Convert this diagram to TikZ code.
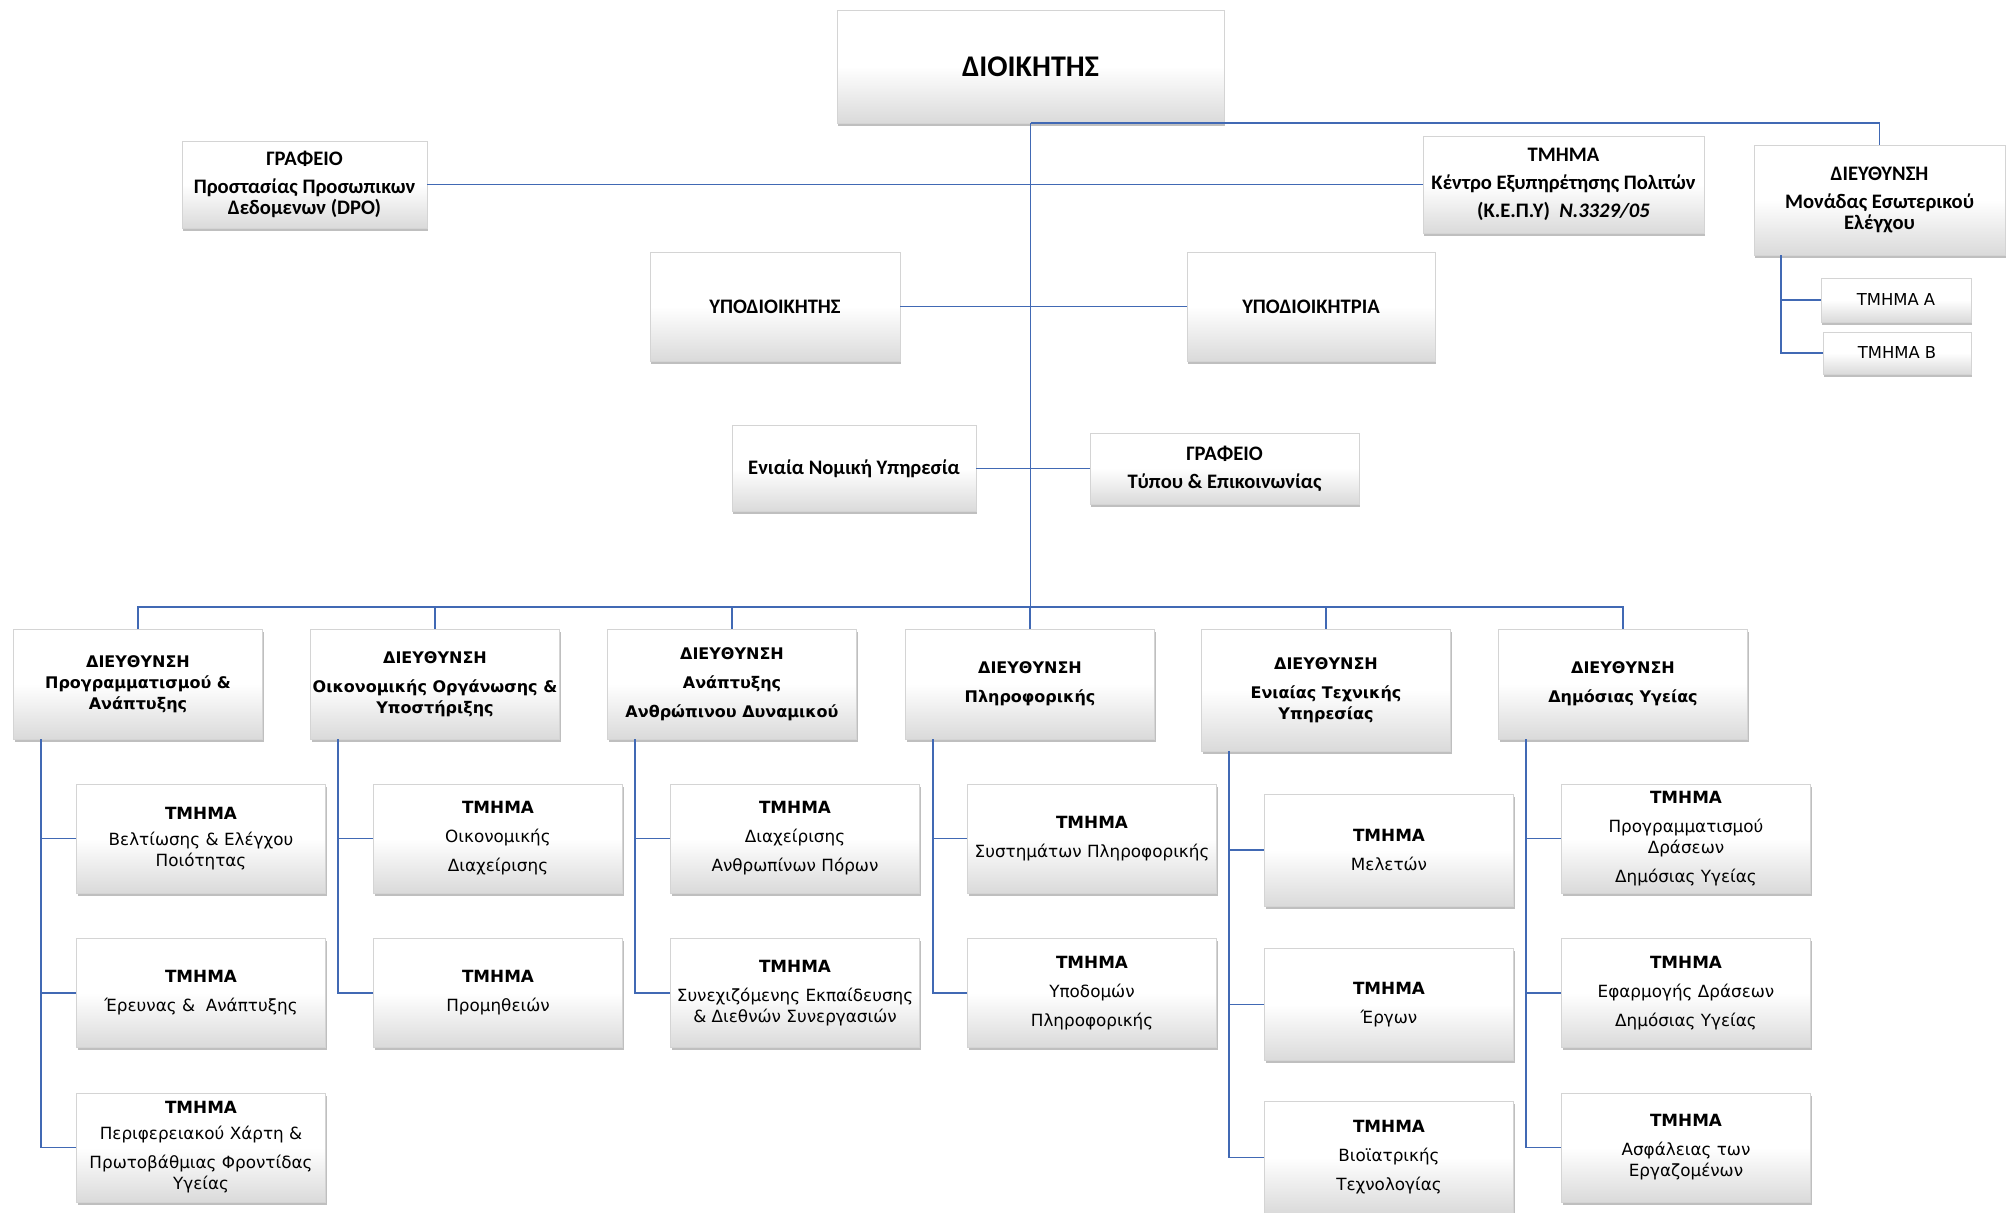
\documentclass[tikz,border=0pt]{standalone}
\usepackage{fontspec}
\setmainfont{Carlito}
\newfontfamily\lowfont{DejaVu Sans}
\usepackage{tikz}
\usetikzlibrary{positioning,shadows,calc}
\definecolor{LinkBlue}{HTML}{4169B4}
\definecolor{BoxEdge}{HTML}{D4D4D4}
\definecolor{BoxShade}{HTML}{DADADA}
\tikzset{
  box/.style={rectangle,draw=BoxEdge,line width=0.3pt,align=center,inner sep=1pt,
              top color=white,bottom color=BoxShade,middle color=white,
              drop shadow={shadow xshift=0.5pt,shadow yshift=-1.3pt,opacity=0.5,fill=gray}},
  topbox/.style={box,font=\bfseries\fontsize{10.3}{10.5}\selectfont},
  dirbox/.style={box,minimum width=124.5pt,minimum height=55pt,
                 font=\lowfont\bfseries\fontsize{8}{10.5}\selectfont},
  secbox/.style={box,minimum width=124.5pt,minimum height=54.5pt,
                 font=\lowfont\fontsize{8.4}{10.5}\selectfont},
  link/.style={draw=LinkBlue,line width=0.9pt}
}

\begin{document}
\begin{tikzpicture}[x=0.5pt,y=-0.5pt]
  \useasboundingbox (0,0) rectangle (2009,1213);

  % top level
  \node[topbox,minimum width=193.5pt,minimum height=56.5pt,font=\bfseries\fontsize{15}{16}\selectfont] (dio) at (1030.5,66.5) {ΔΙΟΙΚΗΤΗΣ};
  \node[topbox,minimum width=122.5pt,minimum height=43.5pt] (dpo) at (304.5,184.5) {ΓΡΑΦΕΙΟ\\[3.5pt] Προστασίας Προσωπικων\\ Δεδομενων (DPO)};
  \node[topbox,minimum width=140.5pt,minimum height=48.5pt] (kepy) at (1563.5,184.5) {ΤΜΗΜΑ\\[3.5pt] Κέντρο Εξυπηρέτησης Πολιτών\\[3.5pt] (Κ.Ε.Π.Υ)\ \ \textit{Ν.3329/05}};
  \node[topbox,minimum width=125.5pt,minimum height=55pt] (esel) at (1879.5,200) {ΔΙΕΥΘΥΝΣΗ\\[3.5pt] Μονάδας Εσωτερικού\\ Ελέγχου};
  \node[box,minimum width=75pt,minimum height=22pt,font=\lowfont\fontsize{8.2}{10}\selectfont] (tmA) at (1896,300) {ΤΜΗΜΑ Α};
  \node[box,minimum width=74pt,minimum height=21pt,font=\lowfont\fontsize{8.2}{10}\selectfont] (tmB) at (1897,353) {ΤΜΗΜΑ Β};
  \node[topbox,minimum width=125pt,minimum height=54.5pt] (ypo) at (775,306.5) {ΥΠΟΔΙΟΙΚΗΤΗΣ};
  \node[topbox,minimum width=124pt,minimum height=54.5pt] (ypa) at (1311,306.5) {ΥΠΟΔΙΟΙΚΗΤΡΙΑ};
  \node[topbox,minimum width=122pt,minimum height=43pt] (nomiki) at (854,468.5) {Ενιαία Νομική Υπηρεσία};
  \node[topbox,minimum width=134.5pt,minimum height=35.5pt] (typos) at (1224.5,468.5) {ΓΡΑΦΕΙΟ\\[3.5pt] Τύπου \& Επικοινωνίας};
  \coordinate (bus) at (1030.5,607);

  % directorates
  \node[dirbox] (d1) at (138,684) {ΔΙΕΥΘΥΝΣΗ\\ Προγραμματισμού \&\\ Ανάπτυξης};
  \node[dirbox] (d2) at (435,684) {ΔΙΕΥΘΥΝΣΗ\\[4pt] Οικονομικής Οργάνωσης \&\\ Υποστήριξης};
  \node[dirbox] (d3) at (732,684) {ΔΙΕΥΘΥΝΣΗ\\[4pt] Ανάπτυξης\\[4pt] Ανθρώπινου Δυναμικού};
  \node[dirbox] (d4) at (1030,684) {ΔΙΕΥΘΥΝΣΗ\\[4pt] Πληροφορικής};
  \node[dirbox,minimum height=61pt] (d5) at (1326,690) {ΔΙΕΥΘΥΝΣΗ\\[4pt] Ενιαίας Τεχνικής\\ Υπηρεσίας};
  \node[dirbox] (d6) at (1623,684) {ΔΙΕΥΘΥΝΣΗ\\[4pt] Δημόσιας Υγείας};

  % sections
  \node[secbox] (c11) at (201,838.5) {\textbf{ΤΜΗΜΑ}\\[2.5pt] Βελτίωσης \& Ελέγχου\\ Ποιότητας};
  \node[secbox] (c12) at (201,993) {\textbf{ΤΜΗΜΑ}\\[4pt] Έρευνας \&\ \ Ανάπτυξης};
  \node[secbox] (c13) at (201,1147.5) {\textbf{ΤΜΗΜΑ}\\[2.5pt] Περιφερειακού Χάρτη \&\\[4pt] Πρωτοβάθμιας Φροντίδας\\ Υγείας};
  \node[secbox] (c21) at (498,838.5) {\textbf{ΤΜΗΜΑ}\\[4pt] Οικονομικής\\[4pt] Διαχείρισης};
  \node[secbox] (c22) at (498,993) {\textbf{ΤΜΗΜΑ}\\[4pt] Προμηθειών};
  \node[secbox] (c31) at (795,838.5) {\textbf{ΤΜΗΜΑ}\\[4pt] Διαχείρισης\\[4pt] Ανθρωπίνων Πόρων};
  \node[secbox] (c32) at (795,993) {\textbf{ΤΜΗΜΑ}\\[4pt] Συνεχιζόμενης Εκπαίδευσης\\ \& Διεθνών Συνεργασιών};
  \node[secbox] (c41) at (1092,838.5) {\textbf{ΤΜΗΜΑ}\\[4pt] Συστημάτων Πληροφορικής};
  \node[secbox] (c42) at (1092,993) {\textbf{ΤΜΗΜΑ}\\[4pt] Υποδομών\\[4pt] Πληροφορικής};
  \node[secbox,minimum height=56pt] (c51) at (1389,850) {\textbf{ΤΜΗΜΑ}\\[4pt] Μελετών};
  \node[secbox,minimum height=56pt] (c52) at (1389,1004.5) {\textbf{ΤΜΗΜΑ}\\[4pt] Έργων};
  \node[secbox,minimum height=56pt] (c53) at (1389,1157.5) {\textbf{ΤΜΗΜΑ}\\[4pt] Βιοϊατρικής\\[4pt] Τεχνολογίας};
  \node[secbox] (c61) at (1686,838.5) {\textbf{ΤΜΗΜΑ}\\[4pt] Προγραμματισμού\\ Δράσεων\\[4pt] Δημόσιας Υγείας};
  \node[secbox] (c62) at (1686,993) {\textbf{ΤΜΗΜΑ}\\[4pt] Εφαρμογής Δράσεων\\[4pt] Δημόσιας Υγείας};
  \node[secbox] (c63) at (1686,1147.5) {\textbf{ΤΜΗΜΑ}\\[4pt] Ασφάλειας των\\ Εργαζομένων};

  % connectors
  \draw[link] (dio.south) -- (bus);
  \draw[link] (dio.south) -| (esel.north);
  \draw[link] (dpo.east) -- (kepy.west);
  \draw[link] (ypo.east) -- (ypa.west);
  \draw[link] (nomiki.east) -- (typos.west);
  \foreach \d in {d1,d2,d3,d4,d5,d6}
    \draw[link] (bus) -| (\d.north);
  \foreach \p/\c in {esel/tmA,esel/tmB}
    \draw[link] ([xshift=13.5pt]\p.south west) |- (\c.west);
  \foreach \p/\c in {d1/c11,d1/c12,d1/c13,d2/c21,d2/c22,d3/c31,d3/c32,
                     d4/c41,d4/c42,d5/c51,d5/c52,d5/c53,d6/c61,d6/c62,d6/c63}
    \draw[link] ([xshift=14pt]\p.south west) |- (\c.west);
\end{tikzpicture}
\end{document}
